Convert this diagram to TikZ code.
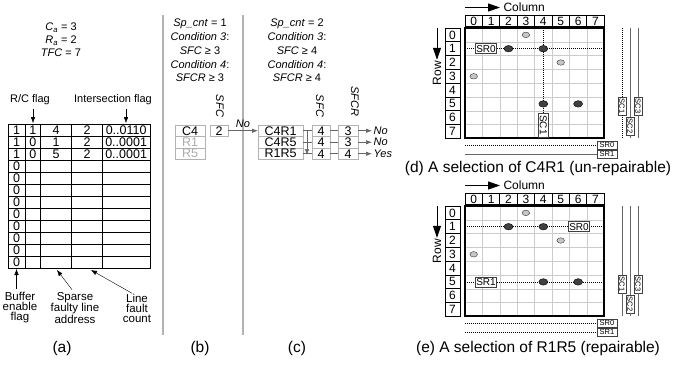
\documentclass[tikz,border=0pt]{standalone}
\usepackage{fontspec}
\setmainfont{Liberation Sans}
\usetikzlibrary{arrows.meta,positioning,calc,shapes.geometric}

\begin{document}
\begin{tikzpicture}[x=1pt,y=-1pt,font=\fontsize{11}{13}\selectfont,
    tbl/.style={line width=0.8pt},
    entry/.style={inner sep=0pt,font=\fontsize{12.5}{12.5}\selectfont},
    cell/.style={draw=gray!60,line width=0.8pt,inner sep=0pt,outer sep=0pt,
      minimum height=11.5pt,font=\fontsize{12.5}{12.5}\selectfont},
    dimcell/.style={cell,text=gray!65},
    flow/.style={draw=black!60,line width=0.7pt},
    tip/.style={-{Latex[length=6pt,width=4.5pt]}},
    bigtip/.style={line width=1pt,-{Triangle[length=12pt,width=8pt]}},
    numbox/.style={draw,line width=0.8pt,inner sep=0pt,font=\fontsize{12}{12}\selectfont},
    gridline/.style={gray!40,line width=0.6pt},
    repline/.style={black,line width=0.6pt,dash pattern=on 1pt off 1pt},
    spareline/.style={black!60,line width=1pt},
    tag/.style={draw=black!75,fill=white,line width=0.6pt,inner sep=1pt,
      minimum height=10pt,font=\fontsize{10}{10}\selectfont},
    minitag/.style={draw=black!75,fill=white,line width=0.5pt,inner sep=0.6pt,
      minimum height=8pt,font=\fontsize{7.5}{7.5}\selectfont},
    hit/.style={ellipse,draw=black,fill=black!75,minimum width=9pt,minimum height=6.5pt,inner sep=0pt},
    spare/.style={ellipse,draw=black!80,fill=gray!45,minimum width=7.5pt,minimum height=5.5pt,inner sep=0pt},
    caption/.style={font=\fontsize{15.5}{18}\selectfont}]
\useasboundingbox (0,0) rectangle (676,364);

% (a) fault buffer
\node[align=center,font=\fontsize{11}{12.8}\selectfont] (params) at (61,40)
  {\textit{C}\textsubscript{\textit{a}} = 3\\\textit{R}\textsubscript{\textit{a}} = 2\\\textit{TFC} = 7};
\draw[tbl] (8,124) rectangle (150,268);
\foreach \cx in {25,40.7,71.7,102.3} \draw[tbl] (\cx,124) -- (\cx,268);
\foreach \ry in {1,...,11} \draw[tbl] (8,124+12*\ry) -- (150,124+12*\ry);
\foreach \r/\rc/\adr/\cnt/\flg in {0/1/4/2/{0..0110},1/0/1/2/{0..0001},2/0/5/2/{0..0001}}{
  \node[entry] (rc\r) at (32.85,130+12*\r) {\rc};
  \node[entry] (adr\r) at (56.2,130+12*\r) {\adr};
  \node[entry] (cnt\r) at (87,130+12*\r) {\cnt};
  \node[entry] (flg\r) at (126.15,130+12*\r) {\flg};
}
\foreach \r in {0,...,11}
  \node[entry] (en\r) at (16.5,130+12*\r) {\ifnum\r<3 1\else 0\fi};

\node (rcflag) at (30,100) {R/C flag};
\node (isflag) at (113,100) {Intersection flag};
\coordinate (rctop) at (33,123);
\coordinate (istop) at (126,123);
\draw[tip] (rcflag.south -| rctop) -- (rctop);
\draw[tip] (isflag.south -| istop) -- (istop);

\node[align=center,font=\fontsize{11.5}{10}\selectfont] (enlbl) at (20,308) {Buffer\\enable\\flag};
\node[align=center,font=\fontsize{11.5}{10}\selectfont] (adrlbl) at (75,308) {Sparse\\faulty line\\address};
\node[align=center,font=\fontsize{11.5}{10}\selectfont] (cntlbl) at (137,308) {Line\\fault\\count};
\coordinate (enbot) at (16.5,269);
\coordinate (adrbot) at (57,270);
\coordinate (cntbot) at (91,270);
\draw[tip] (enlbl.north -| enbot) -- (enbot);
\draw[tip] ($(adrlbl.north)+(-3,1)$) -- (adrbot);
\draw[tip] ($(cntlbl.north)+(-5,3)$) -- (cntbot);
\node[caption] (capa) at (62,348) {(a)};

% (b) and (c) spare allocation
\draw[gray!60,line width=1.2pt] (163,15) -- (163,335);
\draw[gray!60,line width=1.2pt] (243,15) -- (243,335);
\node[align=center,font=\fontsize{11}{13.75}\selectfont] (condb) at (200,50.5)
  {\textit{Sp\_cnt} = 1\\\textit{Condition 3}:\\\textit{SFC} ≥ 3\\\textit{Condition 4}:\\\textit{SFCR} ≥ 3};
\node[align=center,font=\fontsize{11}{13.75}\selectfont] (condc) at (297,50.5)
  {\textit{Sp\_cnt} = 2\\\textit{Condition 3}:\\\textit{SFC} ≥ 4\\\textit{Condition 4}:\\\textit{SFCR} ≥ 4};

\node[cell,minimum width=30pt] (c4) at (190,130.75) {C4};
\node[dimcell,minimum width=30pt,below=0pt of c4] (r1) {R1};
\node[dimcell,minimum width=30pt,below=0pt of r1] (r5) {R5};
\node[cell,minimum width=18pt] (sfcb) at (219,130.75) {2};
\node[rotate=-90] (sfchb) at (220,106) {\textit{SFC}};

\node[cell,minimum width=45pt] (c4r1) at (280.5,130.75) {C4R1};
\node[cell,minimum width=45pt,below=0pt of c4r1] (c4r5) {C4R5};
\node[cell,minimum width=45pt,below=0pt of c4r5] (r1r5) {R1R5};
\node[rotate=-90] (sfchc) at (320,106) {\textit{SFC}};
\node[rotate=-90] (sfcrh) at (355,101) {\textit{SFCR}};
\draw[flow,tip] (sfcb) -- node[above=-1pt] (nob) {\textit{No}} (c4r1);
\foreach \i/\nm/\rv/\ans in {1/c4r1/3/No,2/c4r5/3/No,3/r1r5/4/Yes}{
  \node[cell,minimum width=18pt] (sfc\i) at (321,119.25+11.5*\i) {4};
  \node[cell,minimum width=20pt] (sfcr\i) at (348,119.25+11.5*\i) {\rv};
  \coordinate (out\i) at (372,119.25+11.5*\i);
  \draw[flow] (\nm) -- (sfc\i);
  \draw[flow] (sfc\i) -- (sfcr\i);
  \draw[flow,tip] (sfcr\i) -- (out\i);
  \node[anchor=west,inner sep=1.5pt] (ans\i) at (out\i) {\textit{\ans}};
}
\coordinate (seqtop) at (307,130.75);
\coordinate (seqend) at (307,155);
\draw[flow,tip] (seqtop) -- (seqend);
\node[caption] (capb) at (200,348) {(b)};
\node[caption] (capc) at (297,348) {(c)};

% (d) and (e) spare maps
\foreach \py/\scone/\srzero/\srone in {0/repline/repline/spareline,178/spareline/repline/repline}{
\begin{scope}[shift={(0,\py)}]
  \node[anchor=west,font=\fontsize{12}{12}\selectfont] (collbl\py) at (500,7.5) {Column};
  \coordinate (colarr\py) at (465,7.5);
  \draw[bigtip] (colarr\py) -- (collbl\py.west);
  \foreach \c in {0,...,7}
    \node[numbox,minimum width=17.4pt,minimum height=11pt] (colh\py-\c) at (473.7+17.4*\c,21) {\c};
  \foreach \r in {0,...,7}
    \node[numbox,minimum width=15pt,minimum height=13.8pt] (rowh\py-\r) at (452.5,34.9+13.8*\r) {\r};
  \node[rotate=90,inner sep=1pt,font=\fontsize{12}{12}\selectfont] (rowlbl\py) at (437,73) {Row};
  \coordinate (rowarr\py) at (437,28);
  \draw[bigtip] (rowarr\py) -- (rowlbl\py.east);
  \foreach \k in {1,...,7}{
    \draw[gridline] (465+17.4*\k,28) -- (465+17.4*\k,138.4);
    \draw[gridline] (465,28+13.8*\k) -- (604.2,28+13.8*\k);
  }
  \draw[repline] (465,48.7) -- (604.2,48.7);
  \ifnum\py=0
    \draw[repline] (543.3,28) -- (543.3,113);
  \else
    \draw[repline] (465,103.9) -- (604.2,103.9);
  \fi
  \foreach \c/\r in {3/0,0/3,5/2}
    \node[spare] (sp\py-\c\r) at (473.7+17.4*\c,34.9+13.8*\r) {};
  \foreach \c/\r in {2/1,4/1,4/5,6/5}
    \node[hit] (ht\py-\c\r) at (473.7+17.4*\c,34.9+13.8*\r) {};
  \draw[line width=2pt] (465,28) rectangle (604.2,138.4);
  \ifnum\py=0
    \node[tag] (tsr\py) at (486,48.7) {SR0};
    \node[tag,rotate=-90,minimum width=24pt] (tsc\py) at (543.3,125) {SC1};
  \else
    \node[tag] (tsr\py) at (579,48.7) {SR0};
    \node[tag] (tsrb\py) at (486,103.9) {SR1};
  \fi
  % spare columns
  \foreach \k/\sx/\sy in {1/622/106,2/630/126,3/638/106}{
    \coordinate (sct\py-\k) at (\sx,28);
    \coordinate (scb\py-\k) at (\sx,138.4);
    \node[minitag,rotate=-90,minimum width=18pt] (sc\py-\k) at (\sx,\sy) {SC\k};
  }
  \draw[\scone] (sct\py-1) -- (sc\py-1) -- (scb\py-1);
  \draw[spareline] (sct\py-2) -- (sc\py-2) -- (scb\py-2);
  \draw[spareline] (sct\py-3) -- (sc\py-3) -- (scb\py-3);
  % spare rows
  \node[minitag,minimum width=20pt] (srt\py-0) at (607,145) {SR0};
  \node[minitag,minimum width=20pt] (srt\py-1) at (607,154) {SR1};
  \coordinate (srs\py-0) at (465,145);
  \coordinate (srs\py-1) at (465,154);
  \draw[\srzero] (srs\py-0) -- (srt\py-0);
  \draw[\srone] (srs\py-1) -- (srt\py-1);
\end{scope}}
\node[caption] (capd) at (538,168) {(d) A selection of C4R1 (un-repairable)};
\node[caption] (cape) at (538,348) {(e) A selection of R1R5 (repairable)};
\end{tikzpicture}
\end{document}
